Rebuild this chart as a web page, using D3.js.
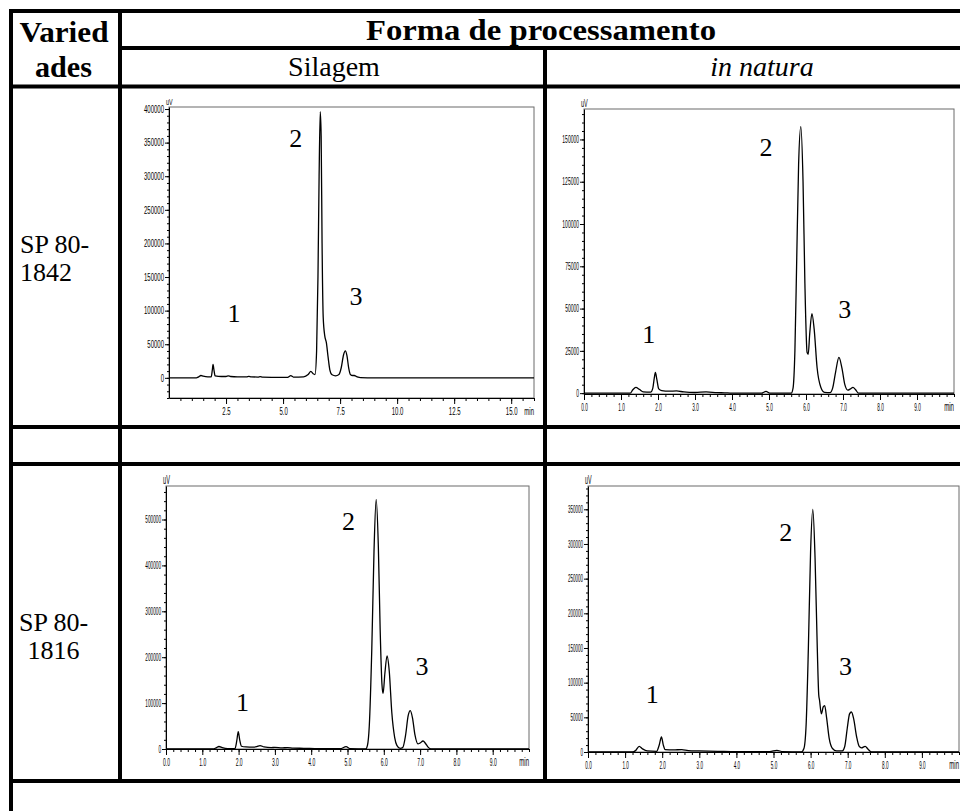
<!DOCTYPE html>
<html>
<head>
<meta charset="utf-8">
<script src="https://cdn.jsdelivr.net/npm/d3@7"></script>
<style>
  body { margin: 0; background: #fff; }
  svg { display: block; }
</style>
</head>
<body>
<svg id="chart" width="960" height="811"></svg>
<script>
// table texts
const headerVar = ["Varied", "ades"];
const headerForm = "Forma de processamento";
const methods = ["Silagem", "in natura"];
const varieties = [["SP 80-", "1842"], ["SP 80-", "1816"]];

// chromatograms: [time (min), signal (uV)]
const silagem1842 = [[0,0],[1.2,0],[1.3,1500],[1.4,3500],[1.5,2500],[1.7,1500],[1.85,1500],[1.9,12000],[1.93,20000],[1.97,12000],
  [2.02,3000],[2.3,2000],[2.5,2000],[2.6,3000],[2.7,2000],[3.0,1500],[3.4,1500],[3.5,2200],[3.6,1500],[3.9,1200],[4.0,1800],
  [4.1,1000],[4.5,800],[5.2,800],[5.34,3200],[5.45,1200],[5.9,1500],[6.1,5000],[6.22,9500],[6.32,6000],[6.4,5000],[6.47,40000],
  [6.53,150000],[6.58,300000],[6.63,396000],[6.67,360000],[6.71,200000],[6.76,90000],[6.83,62000],[6.9,52000],[6.97,32000],
  [7.05,12000],[7.15,4500],[7.3,3000],[7.45,5000],[7.55,15000],[7.65,34000],[7.73,40000],[7.8,33000],[7.88,14000],[7.95,5000],
  [8.05,3500],[8.12,3500],[8.25,1500],[8.4,300],[9,0],[16,0]];
const natura1842 = [[0,0],[1.25,0],[1.32,2000],[1.4,3400],[1.5,2200],[1.6,800],[1.8,600],[1.86,3000],[1.9,9000],[1.93,12200],
  [1.97,8000],[2.02,2500],[2.1,1500],[2.3,1200],[2.5,1300],[2.7,700],[3.0,400],[3.3,700],[3.6,300],[3.8,200],[4.0,0],[4.8,0],
  [4.92,1000],[5.02,0],[5.6,0],[5.65,3000],[5.7,25000],[5.75,80000],[5.8,135000],[5.86,157600],[5.92,125000],[5.97,65000],
  [6.03,24000],[6.06,23000],[6.1,35000],[6.16,47000],[6.22,38000],[6.3,15000],[6.4,3500],[6.5,500],[6.65,300],[6.72,3000],
  [6.8,12500],[6.89,21100],[6.97,15000],[7.05,5000],[7.13,1800],[7.2,2500],[7.27,3400],[7.34,2000],[7.42,0],[10,0]];
const silagem1816 = [[0,0],[1.3,0],[1.38,2500],[1.46,5500],[1.55,3000],[1.7,1000],[1.9,1000],[1.95,18000],[1.99,37800],[2.03,20000],
  [2.08,6000],[2.2,4500],[2.4,4000],[2.5,5000],[2.59,7500],[2.7,4500],[2.9,3000],[3.0,3500],[3.2,2500],[3.35,3000],[3.5,2000],
  [3.8,1500],[4.2,500],[4.8,500],[4.96,5000],[5.08,500],[5.5,0],[5.55,8000],[5.6,50000],[5.67,220000],[5.73,430000],[5.79,544000],
  [5.85,440000],[5.9,260000],[5.95,140000],[5.98,121000],[6.03,165000],[6.09,203000],[6.15,170000],[6.22,80000],[6.3,25000],
  [6.36,8000],[6.45,1500],[6.52,3000],[6.6,30000],[6.67,72000],[6.73,83500],[6.79,68000],[6.86,30000],[6.94,11000],[7.0,13000],
  [7.08,17400],[7.15,12000],[7.22,4000],[7.3,0],[10,0]];
const natura1816 = [[0,0],[1.2,0],[1.28,2000],[1.38,8200],[1.47,4500],[1.6,1500],[1.85,1000],[1.92,10000],[1.98,21600],[2.03,10000],
  [2.08,3500],[2.3,3000],[2.53,3500],[2.7,2000],[3.0,1500],[3.5,1000],[4.0,500],[4.9,500],[5.09,2400],[5.25,500],[5.75,0],
  [5.82,5000],[5.88,40000],[5.94,150000],[6.0,290000],[6.06,350000],[6.12,280000],[6.18,150000],[6.22,82000],[6.24,75000],
  [6.29,55000],[6.34,65000],[6.38,67000],[6.43,50000],[6.5,20000],[6.59,5000],[6.7,1500],[6.85,1500],[6.92,8000],[6.99,35000],
  [7.05,55000],[7.1,57700],[7.16,48000],[7.24,22000],[7.31,8000],[7.37,6000],[7.47,8200],[7.55,4000],[7.64,0],[10,0]];

// peak numbers: [label, time, signal]
const peaksSilagem1842 = [["1",2.85,83000],["2",5.56,343700],["3",8.2,108000]];
const peaksNatura1842 = [["1",1.75,29800],["2",4.92,140000],["3",7.05,44600]];
const peaksSilagem1816 = [["1",2.11,82800],["2",5.03,477000],["3",7.05,161000]];
const peaksNatura1816 = [["1",1.73,70300],["2",5.33,304000],["3",6.94,110700]];

// tick labels
const yTicksSilagem1842 = [0,50000,100000,150000,200000,250000,300000,350000,400000];
const yTicksNatura1842 = [0,25000,50000,75000,100000,125000,150000];
const yTicksSilagem1816 = [0,100000,200000,300000,400000,500000];
const yTicksNatura1816 = [0,50000,100000,150000,200000,250000,300000,350000];
const xTicksSilagem1842 = [2.5,5.0,7.5,10.0,12.5,15.0];
const xTicksMin = [0,1,2,3,4,5,6,7,8,9];

const panels = [
  { data: silagem1842, peaks: peaksSilagem1842, xDomain: [0,16], yDomain: [-30000,403000], box: [169,534,107,398],
    yTicks: yTicksSilagem1842, yMinor: d3.range(-30000,400001,10000), xTicks: xTicksSilagem1842, xMinor: d3.range(0.5,16.01,0.5),
    yFont: 9, ysx: 0.6, xFont: 10, xsx: 0.6 },
  { data: natura1842, peaks: peaksNatura1842, xDomain: [0,10], yDomain: [-500,168000], box: [584,954,109,394],
    yTicks: yTicksNatura1842, yMinor: d3.range(0,165001,5000), xTicks: xTicksMin, xMinor: d3.range(0,10.01,0.2),
    yFont: 11, ysx: 0.5, xFont: 13, xsx: 0.47 },
  { data: silagem1816, peaks: peaksSilagem1816, xDomain: [0,10], yDomain: [0,573000], box: [166,529,486,749],
    yTicks: yTicksSilagem1816, yMinor: d3.range(0,560001,20000), xTicks: xTicksMin, xMinor: d3.range(0,10.01,0.2),
    yFont: 12, ysx: 0.47, xFont: 12, xsx: 0.5 },
  { data: natura1816, peaks: peaksNatura1816, xDomain: [0,10], yDomain: [0,383600], box: [588,959,486,752],
    yTicks: yTicksNatura1816, yMinor: d3.range(0,380001,10000), xTicks: xTicksMin, xMinor: d3.range(0,10.01,0.2),
    yFont: 12, ysx: 0.45, xFont: 13, xsx: 0.46 }
];

const svg = d3.select("#chart");
svg.append("rect").attr("width", 960).attr("height", 811).attr("fill", "#fff");

// table grid
const grid = svg.append("g").attr("stroke", "#000").attr("stroke-width", 4);
[[9,962,11],[120,962,48],[9,962,86.5],[9,962,427],[9,962,464],[9,962,781]].forEach(([x1,x2,yy]) =>
  grid.append("line").attr("x1", x1).attr("x2", x2).attr("y1", yy).attr("y2", yy));
[[11,9,811],[120,9,781],[545,48,781]].forEach(([xx,y1,y2]) =>
  grid.append("line").attr("x1", xx).attr("x2", xx).attr("y1", y1).attr("y2", y2));

const serif = "'Liberation Serif','Times New Roman',serif";
const txt = svg.append("g").attr("font-family", serif).attr("fill", "#000");
txt.append("text").attr("x", 64).attr("y", 42).attr("text-anchor", "middle").attr("font-weight", "bold").attr("font-size", 30)
  .attr("textLength", 89).attr("lengthAdjust", "spacingAndGlyphs").text(headerVar[0]);
txt.append("text").attr("x", 63.5).attr("y", 77).attr("text-anchor", "middle").attr("font-weight", "bold").attr("font-size", 30)
  .attr("textLength", 57).attr("lengthAdjust", "spacingAndGlyphs").text(headerVar[1]);
txt.append("text").attr("x", 541).attr("y", 40).attr("text-anchor", "middle").attr("font-weight", "bold").attr("font-size", 30)
  .attr("textLength", 350).attr("lengthAdjust", "spacingAndGlyphs").text(headerForm);
txt.append("text").attr("x", 334).attr("y", 76).attr("text-anchor", "middle").attr("font-size", 28).text(methods[0]);
txt.append("text").attr("x", 762).attr("y", 76).attr("text-anchor", "middle").attr("font-size", 28).attr("font-style", "italic").text(methods[1]);
txt.append("text").attr("x", 20).attr("y", 253).attr("font-size", 26).text(varieties[0][0]);
txt.append("text").attr("x", 20).attr("y", 281).attr("font-size", 26).text(varieties[0][1]);
txt.append("text").attr("x", 53.5).attr("y", 631).attr("text-anchor", "middle").attr("font-size", 26).text(varieties[1][0]);
txt.append("text").attr("x", 53.5).attr("y", 659).attr("text-anchor", "middle").attr("font-size", 26).text(varieties[1][1]);

const sans = "'Liberation Sans',Arial,sans-serif";

panels.forEach(p => {
  const [l, r, t, b] = p.box;
  const x = d3.scaleLinear().domain(p.xDomain).range([l, r]);
  const y = d3.scaleLinear().domain(p.yDomain).range([b, t]);
  const g = svg.append("g");

  // plot frame
  g.append("rect").attr("x", l).attr("y", t).attr("width", r - l).attr("height", b - t)
    .attr("fill", "none").attr("stroke", "#6b6b6b").attr("stroke-width", 1);

  // y axis
  g.append("g").attr("transform", `translate(${l},0)`)
    .call(d3.axisLeft(y).tickValues(p.yMinor).tickSize(2).tickSizeOuter(0).tickFormat(""))
    .call(s => s.select(".domain").remove());
  const ya = g.append("g").attr("transform", `translate(${l},0)`)
    .attr("font-family", sans).attr("font-size", p.yFont)
    .call(d3.axisLeft(y).tickValues(p.yTicks).tickSize(4).tickSizeOuter(0).tickFormat(d3.format("d")));
  ya.selectAll(".tick text").attr("x", -5 / p.ysx).attr("transform", `scale(${p.ysx},1)`);

  // x axis
  g.append("g").attr("transform", `translate(0,${b})`)
    .call(d3.axisBottom(x).tickValues(p.xMinor).tickSize(3).tickSizeOuter(0).tickFormat(""))
    .call(s => s.select(".domain").remove());
  const xa = g.append("g").attr("transform", `translate(0,${b})`)
    .attr("font-family", sans).attr("font-size", p.xFont)
    .call(d3.axisBottom(x).tickValues(p.xTicks).tickSize(6).tickSizeOuter(0).tickFormat(d3.format(".1f")));
  xa.selectAll(".tick text").attr("y", 17).attr("dy", 0).attr("transform", `scale(${p.xsx},1)`);

  g.append("text").attr("transform", `translate(${r},${b + 17}) scale(${p.xsx},1)`)
    .attr("text-anchor", "end").attr("font-family", sans).attr("font-size", p.xFont).text("min");
  g.append("text").attr("transform", `translate(${l - 3},${t - 2}) scale(${p.ysx},1)`)
    .attr("font-family", sans).attr("font-size", p.yFont).text("uV");

  // trace
  g.append("path").datum(p.data)
    .attr("fill", "none").attr("stroke", "#000").attr("stroke-width", 1.3)
    .attr("d", d3.line().x(d => x(d[0])).y(d => y(d[1])).curve(d3.curveMonotoneX));

  // peak numbers
  g.selectAll(".peak").data(p.peaks).enter().append("text")
    .attr("x", d => x(d[1])).attr("y", d => y(d[2]))
    .attr("text-anchor", "middle").attr("font-family", serif).attr("font-size", 26)
    .text(d => d[0]);
});
</script>
</body>
</html>
